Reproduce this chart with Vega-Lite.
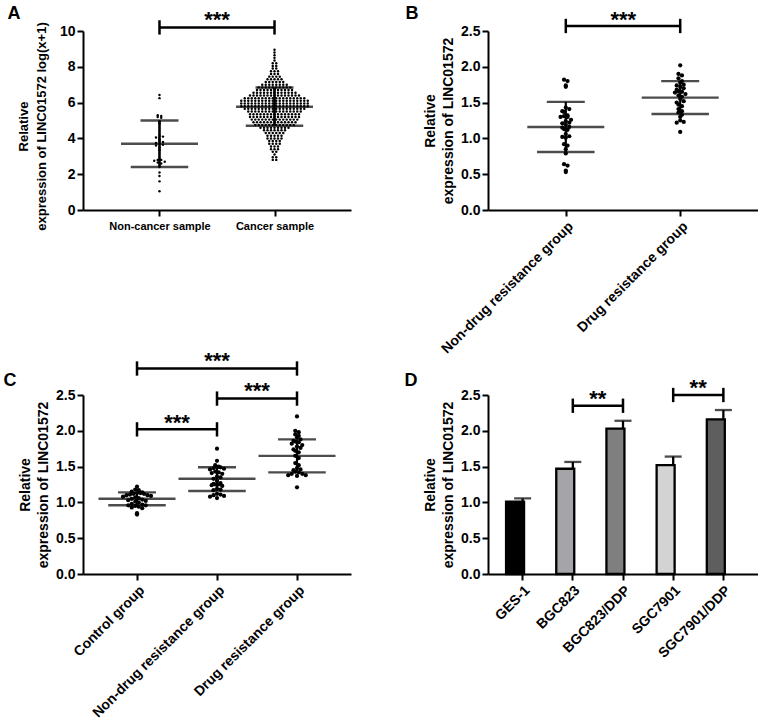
{
"$schema": "https://vega.github.io/schema/vega-lite/v6.json",
"background": "white",
"padding": {"left": 3, "top": 4, "right": 0, "bottom": 0},
"bounds": "flush",
"spacing": 364,
"config": {
 "view": {"stroke": null},
 "font": "Liberation Sans",
 "axis": {"domain": true, "ticks": true, "domainColor": "#000000", "domainWidth": 2, "tickColor": "#000000", "tickWidth": 2, "tickSize": 6, "labelColor": "#000000", "labelFont": "Liberation Sans", "labelFontWeight": "bold", "labelFontSize": 14, "labelPadding": 2, "titleColor": "#000000", "titleFont": "Liberation Sans", "titleFontWeight": "bold", "titleFontSize": 14, "titleLineHeight": 18, "titlePadding": 5, "grid": false, "labelOverlap": false},
 "axisX": {"labelPadding": 3},
 "title": {"font": "Liberation Sans", "fontSize": 18, "fontWeight": "bold", "color": "#000000", "anchor": "start", "frame": "bounds"},
 "text": {"font": "Liberation Sans"}
},
"datasets": {
 "anc": [{"v":6.42},{"v":6.25},{"v":5.3},{"v":5.25},{"v":5.2},{"v":5.15},{"v":4.95},{"v":4.85},{"v":4.15},{"v":4.1},{"v":4.05},{"v":3.95},{"v":3.85},{"v":3.8},{"v":3.75},{"v":3.7},{"v":3.65},{"v":3.6},{"v":3.5},{"v":3.35},{"v":2.85},{"v":2.8},{"v":2.8},{"v":2.75},{"v":2.7},{"v":2.65},{"v":2.6},{"v":2.4},{"v":2.1},{"v":1.9},{"v":1.6},{"v":1.05}],
 "ac": [{"v":2.8},{"v":2.8},{"v":2.95},{"v":2.95},{"v":3.1},{"v":3.25},{"v":3.25},{"v":3.4},{"v":3.4},{"v":3.4},{"v":3.55},{"v":3.55},{"v":3.55},
  {"v":3.7},{"v":3.7},{"v":3.7},{"v":3.7},{"v":3.85},{"v":3.85},{"v":3.85},{"v":3.85},
  {"v":4},{"v":4},{"v":4},{"v":4},{"v":4},{"v":4.15},{"v":4.15},{"v":4.15},{"v":4.15},{"v":4.15},
  {"v":4.3},{"v":4.3},{"v":4.3},{"v":4.3},{"v":4.3},{"v":4.3},
  {"v":4.45},{"v":4.45},{"v":4.45},{"v":4.45},{"v":4.45},{"v":4.45},{"v":4.45},
  {"v":4.6},{"v":4.6},{"v":4.6},{"v":4.6},{"v":4.6},{"v":4.6},{"v":4.6},{"v":4.6},{"v":4.6},
  {"v":4.75},{"v":4.75},{"v":4.75},{"v":4.75},{"v":4.75},{"v":4.75},{"v":4.75},{"v":4.75},{"v":4.75},{"v":4.75},{"v":4.75},{"v":4.75},
  {"v":4.9},{"v":4.9},{"v":4.9},{"v":4.9},{"v":4.9},{"v":4.9},{"v":4.9},{"v":4.9},{"v":4.9},{"v":4.9},{"v":4.9},{"v":4.9},{"v":4.9},
  {"v":5.05},{"v":5.05},{"v":5.05},{"v":5.05},{"v":5.05},{"v":5.05},{"v":5.05},{"v":5.05},{"v":5.05},{"v":5.05},{"v":5.05},{"v":5.05},{"v":5.05},{"v":5.05},
  {"v":5.2},{"v":5.2},{"v":5.2},{"v":5.2},{"v":5.2},{"v":5.2},{"v":5.2},{"v":5.2},{"v":5.2},{"v":5.2},{"v":5.2},{"v":5.2},{"v":5.2},{"v":5.2},{"v":5.2},
  {"v":5.35},{"v":5.35},{"v":5.35},{"v":5.35},{"v":5.35},{"v":5.35},{"v":5.35},{"v":5.35},{"v":5.35},{"v":5.35},{"v":5.35},{"v":5.35},{"v":5.35},{"v":5.35},{"v":5.35},
  {"v":5.5},{"v":5.5},{"v":5.5},{"v":5.5},{"v":5.5},{"v":5.5},{"v":5.5},{"v":5.5},{"v":5.5},{"v":5.5},{"v":5.5},{"v":5.5},{"v":5.5},{"v":5.5},{"v":5.5},{"v":5.5},
  {"v":5.65},{"v":5.65},{"v":5.65},{"v":5.65},{"v":5.65},{"v":5.65},{"v":5.65},{"v":5.65},{"v":5.65},{"v":5.65},{"v":5.65},{"v":5.65},{"v":5.65},{"v":5.65},{"v":5.65},{"v":5.65},{"v":5.65},{"v":5.65},
  {"v":5.8},{"v":5.8},{"v":5.8},{"v":5.8},{"v":5.8},{"v":5.8},{"v":5.8},{"v":5.8},{"v":5.8},{"v":5.8},{"v":5.8},{"v":5.8},{"v":5.8},{"v":5.8},{"v":5.8},{"v":5.8},{"v":5.8},{"v":5.8},{"v":5.8},{"v":5.8},
  {"v":5.95},{"v":5.95},{"v":5.95},{"v":5.95},{"v":5.95},{"v":5.95},{"v":5.95},{"v":5.95},{"v":5.95},{"v":5.95},{"v":5.95},{"v":5.95},{"v":5.95},{"v":5.95},{"v":5.95},{"v":5.95},{"v":5.95},{"v":5.95},{"v":5.95},{"v":5.95},
  {"v":6.1},{"v":6.1},{"v":6.1},{"v":6.1},{"v":6.1},{"v":6.1},{"v":6.1},{"v":6.1},{"v":6.1},{"v":6.1},{"v":6.1},{"v":6.1},{"v":6.1},{"v":6.1},{"v":6.1},{"v":6.1},{"v":6.1},{"v":6.1},{"v":6.1},{"v":6.1},
  {"v":6.25},{"v":6.25},{"v":6.25},{"v":6.25},{"v":6.25},{"v":6.25},{"v":6.25},{"v":6.25},{"v":6.25},{"v":6.25},{"v":6.25},{"v":6.25},{"v":6.25},{"v":6.25},{"v":6.25},{"v":6.25},{"v":6.25},{"v":6.25},
  {"v":6.4},{"v":6.4},{"v":6.4},{"v":6.4},{"v":6.4},{"v":6.4},{"v":6.4},{"v":6.4},{"v":6.4},{"v":6.4},{"v":6.4},{"v":6.4},{"v":6.4},{"v":6.4},{"v":6.4},
  {"v":6.55},{"v":6.55},{"v":6.55},{"v":6.55},{"v":6.55},{"v":6.55},{"v":6.55},{"v":6.55},{"v":6.55},{"v":6.55},{"v":6.55},{"v":6.55},{"v":6.55},
  {"v":6.7},{"v":6.7},{"v":6.7},{"v":6.7},{"v":6.7},{"v":6.7},{"v":6.7},{"v":6.7},{"v":6.7},{"v":6.7},{"v":6.7},
  {"v":6.85},{"v":6.85},{"v":6.85},{"v":6.85},{"v":6.85},{"v":6.85},{"v":6.85},{"v":6.85},{"v":6.85},{"v":6.85},
  {"v":7},{"v":7},{"v":7},{"v":7},{"v":7},{"v":7},{"v":7},{"v":7},
  {"v":7.15},{"v":7.15},{"v":7.15},{"v":7.15},{"v":7.15},{"v":7.15},
  {"v":7.3},{"v":7.3},{"v":7.3},{"v":7.3},{"v":7.3},
  {"v":7.45},{"v":7.45},{"v":7.45},{"v":7.45},
  {"v":7.6},{"v":7.6},{"v":7.6},{"v":7.75},{"v":7.75},{"v":7.75},
  {"v":7.9},{"v":7.9},{"v":8.05},{"v":8.05},{"v":8.2},{"v":8.2},
  {"v":8.35},{"v":8.5},{"v":8.65},{"v":8.8},{"v":8.95}],
 "asum": [{"g":"Non-cancer sample","m":3.7,"lo":2.4,"hi":5.0},{"g":"Cancer sample","m":5.77,"lo":4.71,"hi":6.85}],
 "abr": [{"a":"Non-cancer sample","b":"Cancer sample","y":10.2,"y0":9.8,"y1":10.6,"s":10.64,"t":"***"}],
 "bp": [
  {"g":"Non-drug resistance group","v":1.82},{"g":"Non-drug resistance group","v":1.80},{"g":"Non-drug resistance group","v":1.74},{"g":"Non-drug resistance group","v":1.72},
  {"g":"Non-drug resistance group","v":1.43},{"g":"Non-drug resistance group","v":1.41},{"g":"Non-drug resistance group","v":1.38},{"g":"Non-drug resistance group","v":1.37},
  {"g":"Non-drug resistance group","v":1.32},{"g":"Non-drug resistance group","v":1.31},{"g":"Non-drug resistance group","v":1.30},{"g":"Non-drug resistance group","v":1.30},
  {"g":"Non-drug resistance group","v":1.26},{"g":"Non-drug resistance group","v":1.24},{"g":"Non-drug resistance group","v":1.22},{"g":"Non-drug resistance group","v":1.21},
  {"g":"Non-drug resistance group","v":1.19},{"g":"Non-drug resistance group","v":1.16},{"g":"Non-drug resistance group","v":1.15},{"g":"Non-drug resistance group","v":1.13},
  {"g":"Non-drug resistance group","v":1.12},{"g":"Non-drug resistance group","v":1.06},{"g":"Non-drug resistance group","v":1.03},{"g":"Non-drug resistance group","v":1.02},
  {"g":"Non-drug resistance group","v":1.01},{"g":"Non-drug resistance group","v":0.92},{"g":"Non-drug resistance group","v":0.90},{"g":"Non-drug resistance group","v":0.85},
  {"g":"Non-drug resistance group","v":0.79},{"g":"Non-drug resistance group","v":0.64},{"g":"Non-drug resistance group","v":0.62},{"g":"Non-drug resistance group","v":0.55},
  {"g":"Non-drug resistance group","v":0.53},
  {"g":"Drug resistance group","v":2.02},{"g":"Drug resistance group","v":1.90},{"g":"Drug resistance group","v":1.88},{"g":"Drug resistance group","v":1.84},
  {"g":"Drug resistance group","v":1.80},{"g":"Drug resistance group","v":1.78},{"g":"Drug resistance group","v":1.75},{"g":"Drug resistance group","v":1.74},
  {"g":"Drug resistance group","v":1.72},{"g":"Drug resistance group","v":1.70},{"g":"Drug resistance group","v":1.68},{"g":"Drug resistance group","v":1.66},
  {"g":"Drug resistance group","v":1.65},{"g":"Drug resistance group","v":1.64},{"g":"Drug resistance group","v":1.62},{"g":"Drug resistance group","v":1.60},
  {"g":"Drug resistance group","v":1.58},{"g":"Drug resistance group","v":1.55},{"g":"Drug resistance group","v":1.52},{"g":"Drug resistance group","v":1.50},
  {"g":"Drug resistance group","v":1.47},{"g":"Drug resistance group","v":1.45},{"g":"Drug resistance group","v":1.41},{"g":"Drug resistance group","v":1.38},
  {"g":"Drug resistance group","v":1.36},{"g":"Drug resistance group","v":1.33},{"g":"Drug resistance group","v":1.30},{"g":"Drug resistance group","v":1.25},
  {"g":"Drug resistance group","v":1.23},{"g":"Drug resistance group","v":1.22},{"g":"Drug resistance group","v":1.09}],
 "bsum": [{"g":"Non-drug resistance group","m":1.16,"lo":0.81,"hi":1.51},{"g":"Drug resistance group","m":1.57,"lo":1.34,"hi":1.8}],
 "bbr": [{"a":"Non-drug resistance group","b":"Drug resistance group","y":2.57,"y0":2.47,"y1":2.67,"s":2.66,"t":"***"}],
 "cp": [
  {"g":"Control group","v":1.22},{"g":"Control group","v":1.18},{"g":"Control group","v":1.17},{"g":"Control group","v":1.15},{"g":"Control group","v":1.14},
  {"g":"Control group","v":1.13},{"g":"Control group","v":1.13},{"g":"Control group","v":1.12},{"g":"Control group","v":1.12},{"g":"Control group","v":1.11},
  {"g":"Control group","v":1.10},{"g":"Control group","v":1.10},{"g":"Control group","v":1.09},{"g":"Control group","v":1.08},{"g":"Control group","v":1.07},
  {"g":"Control group","v":1.06},{"g":"Control group","v":1.05},{"g":"Control group","v":1.04},{"g":"Control group","v":1.03},{"g":"Control group","v":1.02},
  {"g":"Control group","v":1.01},{"g":"Control group","v":1.00},{"g":"Control group","v":0.98},{"g":"Control group","v":0.97},{"g":"Control group","v":0.96},
  {"g":"Control group","v":0.96},{"g":"Control group","v":0.95},{"g":"Control group","v":0.94},{"g":"Control group","v":0.93},{"g":"Control group","v":0.92},
  {"g":"Control group","v":0.85},{"g":"Control group","v":0.83},
  {"g":"Non-drug resistance group","v":1.75},{"g":"Non-drug resistance group","v":1.58},{"g":"Non-drug resistance group","v":1.52},{"g":"Non-drug resistance group","v":1.50},
  {"g":"Non-drug resistance group","v":1.49},{"g":"Non-drug resistance group","v":1.49},{"g":"Non-drug resistance group","v":1.48},{"g":"Non-drug resistance group","v":1.47},
  {"g":"Non-drug resistance group","v":1.46},{"g":"Non-drug resistance group","v":1.43},{"g":"Non-drug resistance group","v":1.42},{"g":"Non-drug resistance group","v":1.41},
  {"g":"Non-drug resistance group","v":1.40},{"g":"Non-drug resistance group","v":1.36},{"g":"Non-drug resistance group","v":1.35},{"g":"Non-drug resistance group","v":1.33},
  {"g":"Non-drug resistance group","v":1.30},{"g":"Non-drug resistance group","v":1.27},{"g":"Non-drug resistance group","v":1.26},{"g":"Non-drug resistance group","v":1.25},
  {"g":"Non-drug resistance group","v":1.25},{"g":"Non-drug resistance group","v":1.24},{"g":"Non-drug resistance group","v":1.23},{"g":"Non-drug resistance group","v":1.19},
  {"g":"Non-drug resistance group","v":1.18},{"g":"Non-drug resistance group","v":1.17},{"g":"Non-drug resistance group","v":1.12},{"g":"Non-drug resistance group","v":1.11},
  {"g":"Non-drug resistance group","v":1.10},{"g":"Non-drug resistance group","v":1.09},{"g":"Non-drug resistance group","v":1.08},{"g":"Non-drug resistance group","v":1.06},
  {"g":"Drug resistance group","v":2.20},{"g":"Drug resistance group","v":2.00},{"g":"Drug resistance group","v":1.98},{"g":"Drug resistance group","v":1.95},
  {"g":"Drug resistance group","v":1.93},{"g":"Drug resistance group","v":1.91},{"g":"Drug resistance group","v":1.88},{"g":"Drug resistance group","v":1.86},
  {"g":"Drug resistance group","v":1.85},{"g":"Drug resistance group","v":1.84},{"g":"Drug resistance group","v":1.82},{"g":"Drug resistance group","v":1.80},
  {"g":"Drug resistance group","v":1.78},{"g":"Drug resistance group","v":1.76},{"g":"Drug resistance group","v":1.74},{"g":"Drug resistance group","v":1.72},
  {"g":"Drug resistance group","v":1.70},{"g":"Drug resistance group","v":1.65},{"g":"Drug resistance group","v":1.62},{"g":"Drug resistance group","v":1.55},
  {"g":"Drug resistance group","v":1.52},{"g":"Drug resistance group","v":1.48},{"g":"Drug resistance group","v":1.46},{"g":"Drug resistance group","v":1.45},
  {"g":"Drug resistance group","v":1.43},{"g":"Drug resistance group","v":1.42},{"g":"Drug resistance group","v":1.40},{"g":"Drug resistance group","v":1.40},
  {"g":"Drug resistance group","v":1.38},{"g":"Drug resistance group","v":1.38},{"g":"Drug resistance group","v":1.37},{"g":"Drug resistance group","v":1.21}],
 "csum": [{"g":"Control group","m":1.05,"lo":0.96,"hi":1.14},{"g":"Non-drug resistance group","m":1.33,"lo":1.16,"hi":1.49},{"g":"Drug resistance group","m":1.65,"lo":1.42,"hi":1.88}],
 "cbr1": [{"a":"Control group","b":"Non-drug resistance group","y":2.02,"y0":1.92,"y1":2.12,"s":2.11,"t":"***"},{"a":"Non-drug resistance group","b":"Drug resistance group","y":2.45,"y0":2.35,"y1":2.55,"s":2.55,"t":"***"}],
 "cbr2": [{"a":"Control group","b":"Drug resistance group","y":2.87,"y0":2.77,"y1":2.97,"s":2.98,"t":"***"}],
 "dbar": [{"c":"GES-1","m":1.01,"hi":1.055},{"c":"BGC823","m":1.47,"hi":1.565},{"c":"BGC823/DDP","m":2.03,"hi":2.14},{"c":"SGC7901","m":1.52,"hi":1.64},{"c":"SGC7901/DDP","m":2.16,"hi":2.29}],
 "dbr": [{"a":"BGC823","b":"BGC823/DDP","y":2.35,"y0":2.25,"y1":2.45,"s":2.44,"t":"**"},{"a":"SGC7901","b":"SGC7901/DDP","y":2.5,"y0":2.4,"y1":2.6,"s":2.6,"t":"**"}]
},
"vconcat": [
 {"bounds": "flush", "spacing": 137, "hconcat": [
  {
   "width": 268, "height": 179,
   "title": {"text": "A", "dx": -10, "offset": -14},
   "layer": [
    {"data": {"name": "anc"},
     "transform": [
      {"bin": {"step": 0.15}, "field": "v", "as": "b"},
      {"window": [{"op": "row_number", "as": "r"}], "groupby": ["b"]},
      {"joinaggregate": [{"op": "count", "as": "n"}], "groupby": ["b"]},
      {"calculate": "(datum.r % 2 == 0 ? 1 : -1) * (datum.n % 2 == 0 ? ceil(datum.r / 2) - 0.5 : floor(datum.r / 2))", "as": "o"}],
     "mark": {"type": "circle", "size": 6, "color": "#000000", "opacity": 1},
     "encoding": {
      "x": {"datum": "Non-cancer sample", "type": "nominal", "scale": {"type": "point", "domain": ["Non-cancer sample", "Cancer sample"], "padding": 0.665}, "axis": {"title": null, "labelAngle": 0, "labelFontSize": 11, "labelPadding": 4, "domain": true, "ticks": true}},
      "xOffset": {"field": "o", "type": "quantitative", "scale": {"domain": [-10, 10], "range": [-35, 35]}},
      "y": {"field": "v", "type": "quantitative", "scale": {"domain": [0, 10], "nice": false}, "axis": {"values": [0, 2, 4, 6, 8, 10], "title": ["Relative", "expression of  LINC01572 log(x+1)"], "titleY": 95, "titleFontSize": 13, "titlePadding": 11, "domain": true, "ticks": true}}
     }},
    {"data": {"name": "ac"},
     "transform": [
      {"bin": {"step": 0.15}, "field": "v", "as": "b"},
      {"window": [{"op": "row_number", "as": "r"}], "groupby": ["b"]},
      {"joinaggregate": [{"op": "count", "as": "n"}], "groupby": ["b"]},
      {"calculate": "(datum.r % 2 == 0 ? 1 : -1) * (datum.n % 2 == 0 ? ceil(datum.r / 2) - 0.5 : floor(datum.r / 2))", "as": "o"}],
     "mark": {"type": "circle", "size": 6, "color": "#000000", "opacity": 1},
     "encoding": {
      "x": {"datum": "Cancer sample", "type": "nominal", "scale": {"type": "point", "domain": ["Non-cancer sample", "Cancer sample"], "padding": 0.665}, "axis": {"title": null, "labelAngle": 0, "labelFontSize": 11, "labelPadding": 4, "domain": true, "ticks": true}},
      "xOffset": {"field": "o", "type": "quantitative", "scale": {"domain": [-10, 10], "range": [-35, 35]}},
      "y": {"field": "v", "type": "quantitative", "axis": {"values": [0, 2, 4, 6, 8, 10], "title": ["Relative", "expression of  LINC01572 log(x+1)"], "titleY": 95, "titleFontSize": 13, "titlePadding": 11, "domain": true, "ticks": true}}
     }},
    {"data": {"name": "asum"},
     "transform": [{"fold": ["m", "lo", "hi"], "as": ["k", "val"]}],
     "mark": {"type": "tick", "thickness": 2.5, "color": "#000000"},
     "encoding": {
      "x": {"field": "g", "type": "nominal", "axis": {"title": null, "labelAngle": 0, "labelFontSize": 11, "labelPadding": 4, "domain": true, "ticks": true}},
      "y": {"field": "val", "type": "quantitative", "axis": {"values": [0, 2, 4, 6, 8, 10], "title": ["Relative", "expression of  LINC01572 log(x+1)"], "titleY": 95, "titleFontSize": 13, "titlePadding": 11, "domain": true, "ticks": true}},
      "size": {"field": "k", "type": "nominal", "scale": {"domain": ["m", "lo", "hi"], "range": [77, 38, 38]}, "legend": null}}},
    {"data": {"name": "asum"},
     "mark": {"type": "rule", "strokeWidth": 2.6, "color": "#000000"},
     "encoding": {
      "x": {"field": "g", "type": "nominal", "axis": {"title": null, "labelAngle": 0, "labelFontSize": 11, "labelPadding": 4, "domain": true, "ticks": true}},
      "y": {"field": "lo", "type": "quantitative", "axis": {"values": [0, 2, 4, 6, 8, 10], "title": ["Relative", "expression of  LINC01572 log(x+1)"], "titleY": 95, "titleFontSize": 13, "titlePadding": 11, "domain": true, "ticks": true}},
      "y2": {"field": "hi"}}},
    {"data": {"name": "abr"},
     "mark": {"type": "rule", "strokeWidth": 2.5, "color": "#000000"},
     "encoding": {
      "x": {"field": "a", "type": "nominal", "axis": {"title": null, "labelAngle": 0, "labelFontSize": 11, "labelPadding": 4, "domain": true, "ticks": true}},
      "x2": {"field": "b"},
      "y": {"field": "y", "type": "quantitative", "axis": {"values": [0, 2, 4, 6, 8, 10], "title": ["Relative", "expression of  LINC01572 log(x+1)"], "titleY": 95, "titleFontSize": 13, "titlePadding": 11, "domain": true, "ticks": true}}}},
    {"data": {"name": "abr"},
     "transform": [{"fold": ["a", "b"], "as": ["k", "cat"]}],
     "mark": {"type": "rule", "strokeWidth": 2.5, "color": "#000000"},
     "encoding": {
      "x": {"field": "cat", "type": "nominal", "axis": {"title": null, "labelAngle": 0, "labelFontSize": 11, "labelPadding": 4, "domain": true, "ticks": true}},
      "y": {"field": "y0", "type": "quantitative", "axis": {"values": [0, 2, 4, 6, 8, 10], "title": ["Relative", "expression of  LINC01572 log(x+1)"], "titleY": 95, "titleFontSize": 13, "titlePadding": 11, "domain": true, "ticks": true}},
      "y2": {"field": "y1"}}},
    {"data": {"name": "abr"},
     "mark": {"type": "text", "fontSize": 22, "fontWeight": "bold", "baseline": "middle", "align": "center", "dx": 57.5, "color": "#000000"},
     "encoding": {
      "x": {"field": "a", "type": "nominal", "axis": {"title": null, "labelAngle": 0, "labelFontSize": 11, "labelPadding": 4, "domain": true, "ticks": true}},
      "y": {"field": "s", "type": "quantitative", "axis": {"values": [0, 2, 4, 6, 8, 10], "title": ["Relative", "expression of  LINC01572 log(x+1)"], "titleY": 95, "titleFontSize": 13, "titlePadding": 11, "domain": true, "ticks": true}},
      "text": {"field": "t"}}}
   ]
  },
  {
   "width": 270, "height": 179,
   "title": {"text": "B", "dx": -18, "offset": -14},
   "layer": [
    {"data": {"name": "bp"},
     "transform": [
      {"bin": {"step": 0.06}, "field": "v", "as": "b"},
      {"window": [{"op": "row_number", "as": "r"}], "groupby": ["g", "b"]},
      {"joinaggregate": [{"op": "count", "as": "n"}], "groupby": ["g", "b"]},
      {"calculate": "(datum.r % 2 == 0 ? 1 : -1) * (datum.n % 2 == 0 ? ceil(datum.r / 2) - 0.5 : floor(datum.r / 2))", "as": "o"}],
     "mark": {"type": "circle", "size": 18, "color": "#000000", "opacity": 1},
     "encoding": {
      "x": {"field": "g", "type": "nominal", "scale": {"type": "point", "domain": ["Non-drug resistance group", "Drug resistance group"], "padding": 0.68}, "axis": {"title": null, "labelAngle": -45, "domain": true, "ticks": true}},
      "xOffset": {"field": "o", "type": "quantitative", "scale": {"domain": [-10, 10], "range": [-73, 73]}},
      "y": {"field": "v", "type": "quantitative", "scale": {"domain": [0, 2.5], "nice": false}, "axis": {"values": [0, 0.5, 1, 1.5, 2, 2.5], "format": ".1f", "title": ["Relative", "expression of  LINC01572"], "domain": true, "ticks": true}}
     }},
    {"data": {"name": "bsum"},
     "transform": [{"fold": ["m", "lo", "hi"], "as": ["k", "val"]}],
     "mark": {"type": "tick", "thickness": 2.4, "color": "#000000"},
     "encoding": {
      "x": {"field": "g", "type": "nominal", "axis": {"title": null, "labelAngle": -45, "domain": true, "ticks": true}},
      "y": {"field": "val", "type": "quantitative", "axis": {"values": [0, 0.5, 1, 1.5, 2, 2.5], "format": ".1f", "title": ["Relative", "expression of  LINC01572"], "domain": true, "ticks": true}},
      "size": {"field": "k", "type": "nominal", "scale": {"domain": ["m", "lo", "hi"], "range": [76, 37, 37]}, "legend": null}}},
    {"data": {"name": "bsum"},
     "mark": {"type": "rule", "strokeWidth": 2.2, "color": "#000000"},
     "encoding": {
      "x": {"field": "g", "type": "nominal", "axis": {"title": null, "labelAngle": -45, "domain": true, "ticks": true}},
      "y": {"field": "lo", "type": "quantitative", "axis": {"values": [0, 0.5, 1, 1.5, 2, 2.5], "format": ".1f", "title": ["Relative", "expression of  LINC01572"], "domain": true, "ticks": true}},
      "y2": {"field": "hi"}}},
    {"data": {"name": "bbr"},
     "mark": {"type": "rule", "strokeWidth": 2.5, "color": "#000000"},
     "encoding": {
      "x": {"field": "a", "type": "nominal", "axis": {"title": null, "labelAngle": -45, "domain": true, "ticks": true}},
      "x2": {"field": "b"},
      "y": {"field": "y", "type": "quantitative", "axis": {"values": [0, 0.5, 1, 1.5, 2, 2.5], "format": ".1f", "title": ["Relative", "expression of  LINC01572"], "domain": true, "ticks": true}}}},
    {"data": {"name": "bbr"},
     "transform": [{"fold": ["a", "b"], "as": ["k", "cat"]}],
     "mark": {"type": "rule", "strokeWidth": 2.5, "color": "#000000"},
     "encoding": {
      "x": {"field": "cat", "type": "nominal", "axis": {"title": null, "labelAngle": -45, "domain": true, "ticks": true}},
      "y": {"field": "y0", "type": "quantitative", "axis": {"values": [0, 0.5, 1, 1.5, 2, 2.5], "format": ".1f", "title": ["Relative", "expression of  LINC01572"], "domain": true, "ticks": true}},
      "y2": {"field": "y1"}}},
    {"data": {"name": "bbr"},
     "mark": {"type": "text", "fontSize": 22, "fontWeight": "bold", "baseline": "middle", "align": "center", "dx": 57.5, "color": "#000000"},
     "encoding": {
      "x": {"field": "a", "type": "nominal", "axis": {"title": null, "labelAngle": -45, "domain": true, "ticks": true}},
      "y": {"field": "s", "type": "quantitative", "axis": {"values": [0, 0.5, 1, 1.5, 2, 2.5], "format": ".1f", "title": ["Relative", "expression of  LINC01572"], "domain": true, "ticks": true}},
      "text": {"field": "t"}}}
   ]
  }
 ]},
 {"bounds": "flush", "spacing": 137, "hconcat": [
  {
   "width": 268, "height": 179,
   "title": {"text": "C", "dx": -15, "offset": -40},
   "layer": [
    {"data": {"name": "cp"},
     "transform": [
      {"bin": {"step": 0.06}, "field": "v", "as": "b"},
      {"window": [{"op": "row_number", "as": "r"}], "groupby": ["g", "b"]},
      {"joinaggregate": [{"op": "count", "as": "n"}], "groupby": ["g", "b"]},
      {"calculate": "(datum.r % 2 == 0 ? 1 : -1) * (datum.n % 2 == 0 ? ceil(datum.r / 2) - 0.5 : floor(datum.r / 2))", "as": "o"}],
     "mark": {"type": "circle", "size": 18, "color": "#000000", "opacity": 1},
     "encoding": {
      "x": {"field": "g", "type": "nominal", "scale": {"type": "point", "domain": ["Control group", "Non-drug resistance group", "Drug resistance group"], "padding": 0.675}, "axis": {"title": null, "labelAngle": -45, "domain": true, "ticks": true}},
      "xOffset": {"field": "o", "type": "quantitative", "scale": {"domain": [-10, 10], "range": [-70, 70]}},
      "y": {"field": "v", "type": "quantitative", "scale": {"domain": [0, 2.5], "nice": false}, "axis": {"values": [0, 0.5, 1, 1.5, 2, 2.5], "format": ".1f", "title": ["Relative", "expression of  LINC01572"], "domain": true, "ticks": true}}
     }},
    {"data": {"name": "csum"},
     "transform": [{"fold": ["m", "lo", "hi"], "as": ["k", "val"]}],
     "mark": {"type": "tick", "thickness": 2.4, "color": "#000000"},
     "encoding": {
      "x": {"field": "g", "type": "nominal", "axis": {"title": null, "labelAngle": -45, "domain": true, "ticks": true}},
      "y": {"field": "val", "type": "quantitative", "axis": {"values": [0, 0.5, 1, 1.5, 2, 2.5], "format": ".1f", "title": ["Relative", "expression of  LINC01572"], "domain": true, "ticks": true}},
      "size": {"field": "k", "type": "nominal", "scale": {"domain": ["m", "lo", "hi"], "range": [53, 27, 27]}, "legend": null}}},
    {"data": {"name": "csum"},
     "mark": {"type": "rule", "strokeWidth": 2.2, "color": "#000000"},
     "encoding": {
      "x": {"field": "g", "type": "nominal", "axis": {"title": null, "labelAngle": -45, "domain": true, "ticks": true}},
      "y": {"field": "lo", "type": "quantitative", "axis": {"values": [0, 0.5, 1, 1.5, 2, 2.5], "format": ".1f", "title": ["Relative", "expression of  LINC01572"], "domain": true, "ticks": true}},
      "y2": {"field": "hi"}}},
    {"data": {"name": "cbr1"},
     "mark": {"type": "rule", "strokeWidth": 2.5, "color": "#000000"},
     "encoding": {
      "x": {"field": "a", "type": "nominal", "axis": {"title": null, "labelAngle": -45, "domain": true, "ticks": true}},
      "x2": {"field": "b"},
      "y": {"field": "y", "type": "quantitative", "axis": {"values": [0, 0.5, 1, 1.5, 2, 2.5], "format": ".1f", "title": ["Relative", "expression of  LINC01572"], "domain": true, "ticks": true}}}},
    {"data": {"name": "cbr1"},
     "transform": [{"fold": ["a", "b"], "as": ["k", "cat"]}],
     "mark": {"type": "rule", "strokeWidth": 2.5, "color": "#000000"},
     "encoding": {
      "x": {"field": "cat", "type": "nominal", "axis": {"title": null, "labelAngle": -45, "domain": true, "ticks": true}},
      "y": {"field": "y0", "type": "quantitative", "axis": {"values": [0, 0.5, 1, 1.5, 2, 2.5], "format": ".1f", "title": ["Relative", "expression of  LINC01572"], "domain": true, "ticks": true}},
      "y2": {"field": "y1"}}},
    {"data": {"name": "cbr1"},
     "mark": {"type": "text", "fontSize": 22, "fontWeight": "bold", "baseline": "middle", "align": "center", "dx": 40, "color": "#000000"},
     "encoding": {
      "x": {"field": "a", "type": "nominal", "axis": {"title": null, "labelAngle": -45, "domain": true, "ticks": true}},
      "y": {"field": "s", "type": "quantitative", "axis": {"values": [0, 0.5, 1, 1.5, 2, 2.5], "format": ".1f", "title": ["Relative", "expression of  LINC01572"], "domain": true, "ticks": true}},
      "text": {"field": "t"}}},
    {"data": {"name": "cbr2"},
     "mark": {"type": "rule", "strokeWidth": 2.5, "color": "#000000"},
     "encoding": {
      "x": {"field": "a", "type": "nominal", "axis": {"title": null, "labelAngle": -45, "domain": true, "ticks": true}},
      "x2": {"field": "b"},
      "y": {"field": "y", "type": "quantitative", "axis": {"values": [0, 0.5, 1, 1.5, 2, 2.5], "format": ".1f", "title": ["Relative", "expression of  LINC01572"], "domain": true, "ticks": true}}}},
    {"data": {"name": "cbr2"},
     "transform": [{"fold": ["a", "b"], "as": ["k", "cat"]}],
     "mark": {"type": "rule", "strokeWidth": 2.5, "color": "#000000"},
     "encoding": {
      "x": {"field": "cat", "type": "nominal", "axis": {"title": null, "labelAngle": -45, "domain": true, "ticks": true}},
      "y": {"field": "y0", "type": "quantitative", "axis": {"values": [0, 0.5, 1, 1.5, 2, 2.5], "format": ".1f", "title": ["Relative", "expression of  LINC01572"], "domain": true, "ticks": true}},
      "y2": {"field": "y1"}}},
    {"data": {"name": "cbr2"},
     "mark": {"type": "text", "fontSize": 22, "fontWeight": "bold", "baseline": "middle", "align": "center", "dx": 80, "color": "#000000"},
     "encoding": {
      "x": {"field": "a", "type": "nominal", "axis": {"title": null, "labelAngle": -45, "domain": true, "ticks": true}},
      "y": {"field": "s", "type": "quantitative", "axis": {"values": [0, 0.5, 1, 1.5, 2, 2.5], "format": ".1f", "title": ["Relative", "expression of  LINC01572"], "domain": true, "ticks": true}},
      "text": {"field": "t"}}}
   ]
  },
  {
   "width": 270, "height": 179,
   "title": {"text": "D", "dx": -19, "offset": -13},
   "layer": [
    {"data": {"name": "dbar"},
     "mark": {"type": "bar", "stroke": "#000000", "strokeWidth": 2.3},
     "encoding": {
      "x": {"field": "c", "type": "nominal", "scale": {"type": "band", "domain": ["GES-1", "BGC823", "BGC823/DDP", "SGC7901", "SGC7901/DDP"], "paddingInner": 0.34, "paddingOuter": 0.36}, "axis": {"title": null, "labelAngle": -45, "domain": true, "ticks": true}},
      "y": {"field": "m", "type": "quantitative", "scale": {"domain": [0, 2.5], "nice": false}, "axis": {"values": [0, 0.5, 1, 1.5, 2, 2.5], "format": ".1f", "title": ["Relative", "expression of  LINC01572"], "domain": true, "ticks": true}},
      "color": {"field": "c", "type": "nominal", "scale": {"domain": ["GES-1", "BGC823", "BGC823/DDP", "SGC7901", "SGC7901/DDP"], "range": ["#000000", "#a4a4a9", "#7f7f7f", "#d3d3d3", "#5e5e5e"]}, "legend": null}
     }},
    {"data": {"name": "dbar"},
     "mark": {"type": "rule", "strokeWidth": 2.3, "color": "#000000"},
     "encoding": {
      "x": {"field": "c", "type": "nominal", "axis": {"title": null, "labelAngle": -45, "domain": true, "ticks": true}},
      "y": {"field": "m", "type": "quantitative", "axis": {"values": [0, 0.5, 1, 1.5, 2, 2.5], "format": ".1f", "title": ["Relative", "expression of  LINC01572"], "domain": true, "ticks": true}},
      "y2": {"field": "hi"}}},
    {"data": {"name": "dbar"},
     "mark": {"type": "tick", "size": 17, "thickness": 2.3, "color": "#000000"},
     "encoding": {
      "x": {"field": "c", "type": "nominal", "axis": {"title": null, "labelAngle": -45, "domain": true, "ticks": true}},
      "y": {"field": "hi", "type": "quantitative", "axis": {"values": [0, 0.5, 1, 1.5, 2, 2.5], "format": ".1f", "title": ["Relative", "expression of  LINC01572"], "domain": true, "ticks": true}}}},
    {"data": {"name": "dbr"},
     "mark": {"type": "rule", "strokeWidth": 2.5, "color": "#000000"},
     "encoding": {
      "x": {"field": "a", "type": "nominal", "axis": {"title": null, "labelAngle": -45, "domain": true, "ticks": true}},
      "x2": {"field": "b"},
      "y": {"field": "y", "type": "quantitative", "axis": {"values": [0, 0.5, 1, 1.5, 2, 2.5], "format": ".1f", "title": ["Relative", "expression of  LINC01572"], "domain": true, "ticks": true}}}},
    {"data": {"name": "dbr"},
     "transform": [{"fold": ["a", "b"], "as": ["k", "cat"]}],
     "mark": {"type": "rule", "strokeWidth": 2.5, "color": "#000000"},
     "encoding": {
      "x": {"field": "cat", "type": "nominal", "axis": {"title": null, "labelAngle": -45, "domain": true, "ticks": true}},
      "y": {"field": "y0", "type": "quantitative", "axis": {"values": [0, 0.5, 1, 1.5, 2, 2.5], "format": ".1f", "title": ["Relative", "expression of  LINC01572"], "domain": true, "ticks": true}},
      "y2": {"field": "y1"}}},
    {"data": {"name": "dbr"},
     "mark": {"type": "text", "fontSize": 22, "fontWeight": "bold", "baseline": "middle", "align": "center", "dx": 25, "color": "#000000"},
     "encoding": {
      "x": {"field": "a", "type": "nominal", "axis": {"title": null, "labelAngle": -45, "domain": true, "ticks": true}},
      "y": {"field": "s", "type": "quantitative", "axis": {"values": [0, 0.5, 1, 1.5, 2, 2.5], "format": ".1f", "title": ["Relative", "expression of  LINC01572"], "domain": true, "ticks": true}},
      "text": {"field": "t"}}}
   ]
  }
 ]}
]
}
